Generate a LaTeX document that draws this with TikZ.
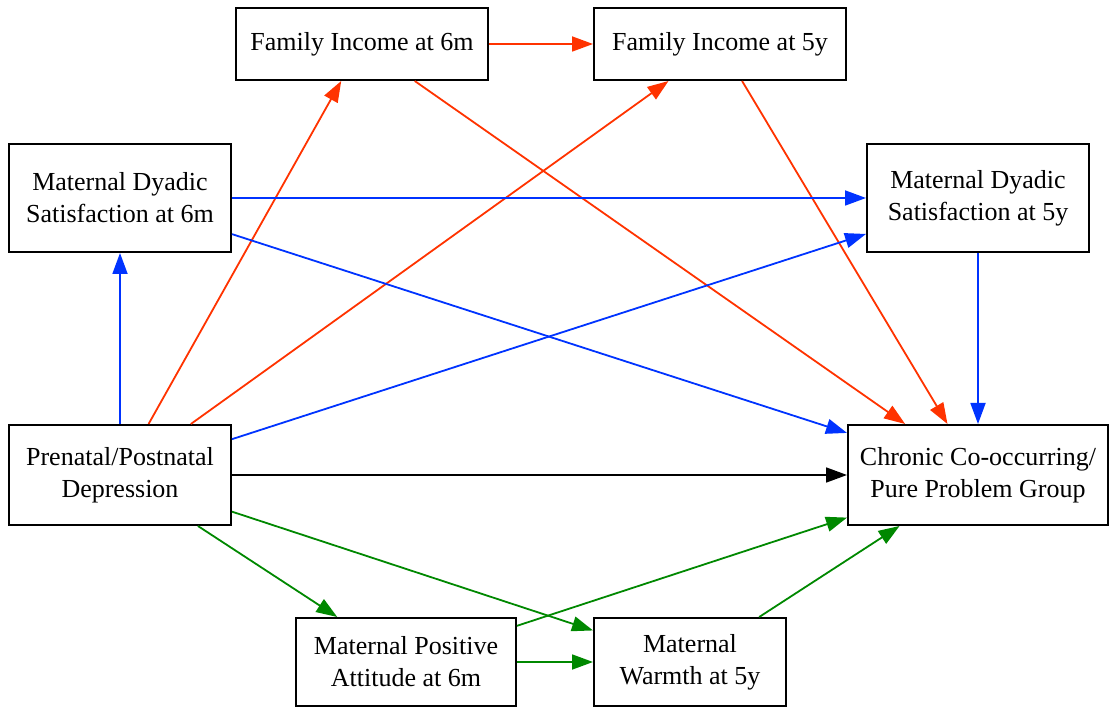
\documentclass[tikz,border=0pt]{standalone}
\usepackage{fontspec}
\setmainfont{Liberation Serif}
\usetikzlibrary{arrows.meta}
\definecolor{ered}{RGB}{255,51,0}
\definecolor{eblue}{RGB}{0,51,255}
\definecolor{egreen}{RGB}{0,136,0}
\begin{document}
\begin{tikzpicture}[x=1pt,y=-1pt,
  box/.style={draw=black,line width=2pt,rectangle,inner sep=0pt,align=center,
    font=\fontsize{26}{32}\selectfont},
  edge/.style={line width=1.8pt,-{Triangle[length=21pt,width=15pt]}},
  redge/.style={edge,draw=ered,fill=ered},
  bedge/.style={edge,draw=eblue,fill=eblue},
  gedge/.style={edge,draw=egreen,fill=egreen},
  kedge/.style={edge,draw=black,fill=black}]
\useasboundingbox (0,0) rectangle (1109,708);
\node[box,minimum width=252pt,minimum height=72pt] (fi6) at (362,44) {Family Income at 6m};
\node[box,minimum width=252pt,minimum height=72pt] (fi5) at (720,44) {Family Income at 5y};
\node[box,minimum width=222pt,minimum height=108pt] (mds6) at (120,198) {Maternal Dyadic\\Satisfaction at 6m};
\node[box,minimum width=222pt,minimum height=108pt] (mds5) at (978,198) {Maternal Dyadic\\Satisfaction at 5y};
\node[box,minimum width=222pt,minimum height=100pt] (pre) at (120,475) {Prenatal/Postnatal\\Depression};
\node[box,minimum width=260pt,minimum height=100pt] (chr) at (978,475) {Chronic Co-occurring/\\Pure Problem Group};
\node[box,minimum width=220pt,minimum height=88pt] (mpa) at (406,662) {Maternal Positive\\Attitude at 6m};
\node[box,minimum width=192pt,minimum height=88pt] (mw) at (690,662) {Maternal\\Warmth at 5y};
% red
\draw[redge] (fi6) -- (fi5);
\draw[redge] (pre) -- (fi6);
\draw[redge] (pre) -- (fi5);
\draw[redge] (fi6) -- (chr);
\draw[redge] (fi5) -- (chr);
% blue
\draw[bedge] (pre) -- (mds6);
\draw[bedge] (mds6) -- (mds5);
\draw[bedge] (mds6) -- (chr);
\draw[bedge] (pre) -- (mds5);
\draw[bedge] (mds5) -- (chr);
% black
\draw[kedge] (pre) -- (chr);
% green
\draw[gedge] (pre) -- (mpa);
\draw[gedge] (pre) -- (mw);
\draw[gedge] (mpa) -- (chr);
\draw[gedge] (mpa) -- (mw);
\draw[gedge] (mw) -- (chr);
\end{tikzpicture}
\end{document}
